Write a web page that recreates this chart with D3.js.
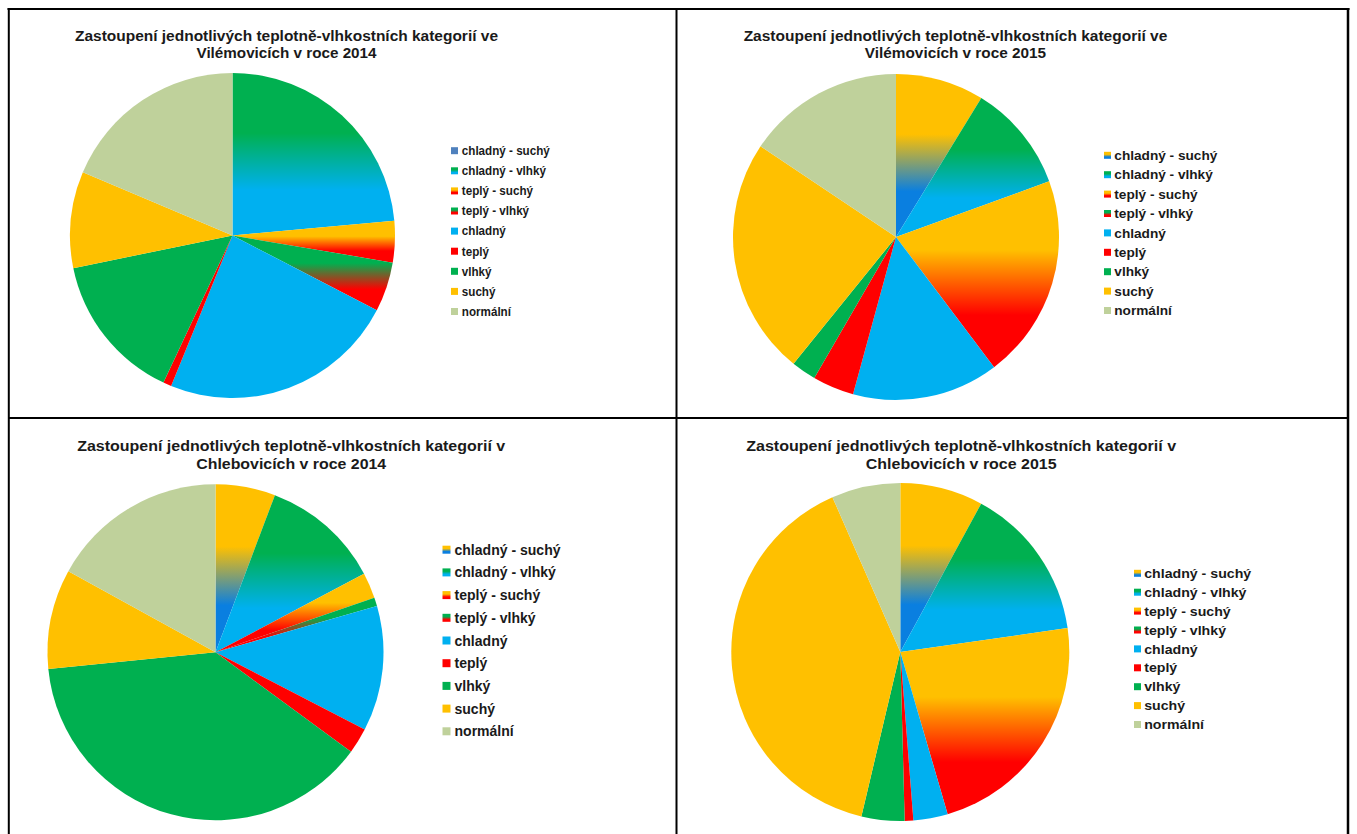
<!DOCTYPE html>
<html>
<head>
<meta charset="utf-8">
<script src="https://cdn.jsdelivr.net/npm/d3@7"></script>
<style>
  html, body { margin: 0; padding: 0; background: #fff; }
  svg { display: block; }
  text { font-family: "Liberation Sans", Arial, sans-serif; font-weight: bold; fill: #1a1a1a; }
</style>
</head>
<body>
<svg id="chart" width="1357" height="834"></svg>
<script>
// ---- data ----
const categories = ["chladný - suchý", "chladný - vlhký", "teplý - suchý", "teplý - vlhký",
                    "chladný", "teplý", "vlhký", "suchý", "normální"];
// number of days in each category
const vilemovice2014 = [0, 86, 15, 18, 86, 3, 54, 35, 68];
const vilemovice2015 = [32, 39, 74, 0, 53, 15, 9, 86, 57];
const chlebovice2014 = [21, 42, 9, 3, 44, 9, 140, 35, 62];
const chlebovice2015 = [29, 54, 83, 0, 12, 3, 15, 145, 24];
const titles = [
  ["Zastoupení jednotlivých teplotně-vlhkostních kategorií ve", "Vilémovicích v roce 2014"],
  ["Zastoupení jednotlivých teplotně-vlhkostních kategorií ve", "Vilémovicích v roce 2015"],
  ["Zastoupení jednotlivých teplotně-vlhkostních kategorií v", "Chlebovicích v roce 2014"],
  ["Zastoupení jednotlivých teplotně-vlhkostních kategorií v", "Chlebovicích v roce 2015"]
];
// fill colours: [top colour, bottom colour] (vertical gradient for combined categories)
const topColors    = ["#FFC000", "#00B050", "#FFC000", "#00B050", "#00B0F0", "#FF0000", "#00B050", "#FFC000", "#BFD19B"];
const bottomColors = ["#0A7FE0", "#00B0F0", "#FF0000", "#FF0000", "#00B0F0", "#FF0000", "#00B050", "#FFC000", "#BFD19B"];
const plainLegendColor = "#4F81BD"; // legend colour of a series that has no data in a chart

// ---- layout ----
const layout = [
  {values: vilemovice2014, plain: [0], cx: 232.5, cy: 235.5, r: 162.5, tx: 286.5, ty: [41, 58.3], tw: [423, 180],
   lx: 451, ly: 150.7, ldy: 20.1, ms: 7, ltx: 461.8, lfs: 12, lw: 88},
  {values: vilemovice2015, plain: [], cx: 896, cy: 237, r: 163, tx: 955.5, ty: [41, 58.3], tw: [423.7, 181.3],
   lx: 1104, ly: 155.3, ldy: 19.4, ms: 7, ltx: 1114.3, lfs: 13, lw: 103},
  {values: chlebovice2014, plain: [], cx: 215.5, cy: 652.3, r: 168, tx: 291.2, ty: [451.3, 469], tw: [428, 190],
   lx: 442.5, ly: 549.7, ldy: 22.7, ms: 8, ltx: 454.5, lfs: 14, lw: 106},
  {values: chlebovice2015, plain: [], cx: 900.3, cy: 652, r: 169, tx: 961.2, ty: [451.3, 469], tw: [430, 190.8],
   lx: 1134, ly: 573.3, ldy: 18.9, ms: 7, ltx: 1144.2, lfs: 13, lw: 107}
];

const svg = d3.select("#chart");
const defs = svg.append("defs");

// table grid lines
const grid = svg.append("g").attr("stroke", "#000").attr("stroke-width", 2);
grid.append("line").attr("x1", 7.5).attr("x2", 1349.5).attr("y1", 9).attr("y2", 9);
grid.append("line").attr("x1", 8.8).attr("x2", 8.8).attr("y1", 8).attr("y2", 834);
grid.append("line").attr("x1", 676.5).attr("x2", 676.5).attr("y1", 8).attr("y2", 834);
grid.append("line").attr("x1", 1348).attr("x2", 1348).attr("y1", 8).attr("y2", 834).attr("stroke-width", 2.5);
grid.append("line").attr("x1", 8).attr("x2", 1349).attr("y1", 418).attr("y2", 418);

function makeGradient(id, i) {
  const g = defs.append("linearGradient").attr("id", id)
    .attr("x1", 0).attr("y1", 0).attr("x2", 0).attr("y2", 1);
  g.append("stop").attr("offset", 0).attr("stop-color", topColors[i]);
  g.append("stop").attr("offset", 0.37).attr("stop-color", topColors[i]);
  g.append("stop").attr("offset", 0.72).attr("stop-color", bottomColors[i]);
  g.append("stop").attr("offset", 1).attr("stop-color", bottomColors[i]);
  return "url(#" + id + ")";
}

function fillFor(p, i, key) {
  if (topColors[i] === bottomColors[i]) return topColors[i];
  return makeGradient("g" + p + "_" + i + "_" + key, i);
}

const pie = d3.pie().sort(null).value(d => d).startAngle(0).endAngle(2 * Math.PI);

layout.forEach((L, p) => {
  const g = svg.append("g");

  // title
  titles[p].forEach((line, k) => {
    const t = g.append("text")
      .attr("x", L.tx).attr("y", L.ty[k])
      .attr("text-anchor", "middle")
      .attr("font-size", 14)
      .text(line);
    t.attr("textLength", L.tw[k]).attr("lengthAdjust", "spacingAndGlyphs");
  });

  // pie
  const arc = d3.arc().innerRadius(0).outerRadius(L.r);
  const arcs = pie(L.values);
  g.append("g").attr("transform", `translate(${L.cx},${L.cy})`)
    .selectAll("path")
    .data(arcs.filter(a => a.value > 0))
    .join("path")
    .attr("d", arc)
    .attr("fill", a => fillFor(p, a.index, "s"));

  // legend
  const y = d3.scalePoint().domain(categories).range([L.ly, L.ly + L.ldy * (categories.length - 1)]);
  const leg = g.append("g");
  const items = leg.selectAll("g").data(categories).join("g")
    .attr("transform", d => `translate(0,${y(d)})`);
  items.append("rect")
    .attr("x", L.lx).attr("y", -L.ms / 2)
    .attr("width", L.ms).attr("height", L.ms)
    .attr("fill", (d, i) => L.plain.includes(i) ? plainLegendColor : fillFor(p, i, "l"));
  const texts = items.append("text")
    .attr("x", L.ltx).attr("y", L.lfs * 0.36)
    .attr("font-size", L.lfs)
    .text(d => d);
  const natural = texts.nodes().map(n => n.getComputedTextLength());
  const factor = L.lw / natural[0];
  texts.attr("textLength", (d, i) => natural[i] * factor).attr("lengthAdjust", "spacingAndGlyphs");
});
</script>
</body>
</html>
